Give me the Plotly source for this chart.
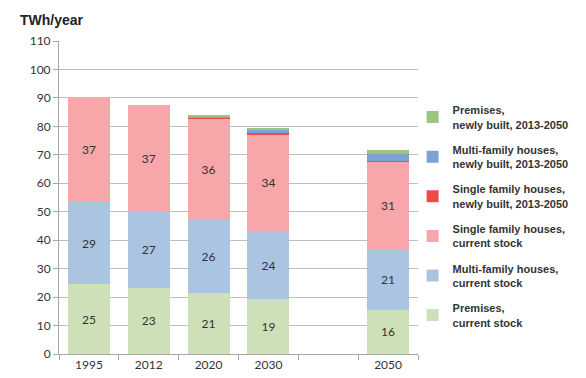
import plotly.graph_objects as go

# Final energy use for heating, TWh/year
years = ["1995", "2012", "2020", "2030", "2050"]
category_order = ["1995", "2012", "2020", "2030", " ", "2050"]

premises_current = [24.6, 23.2, 21.4, 19.2, 15.6]
multi_current = [28.7, 26.8, 25.6, 23.8, 21.0]
single_current = [37.0, 37.4, 35.9, 34.2, 31.0]
single_new = [0.0, 0.0, 0.1, 0.3, 0.4]
multi_new = [0.0, 0.0, 0.5, 1.3, 2.3]
premises_new = [0.0, 0.0, 0.6, 0.7, 1.5]

# Stacking order bottom-to-top; the legend lists them top-to-bottom in reverse
series = [
    ("Premises,<br>current stock", premises_current, "#CDE0B8", True),
    ("Multi-family houses,<br>current stock", multi_current, "#ABC4E1", True),
    ("Single family houses,<br>current stock", single_current, "#F7A6AA", True),
    ("Single family houses,<br>newly built, 2013-2050", single_new, "#EF4A4C", False),
    ("Multi-family houses,<br>newly built, 2013-2050", multi_new, "#7DA2D3", False),
    ("Premises,<br>newly built, 2013-2050", premises_new, "#9CC67D", False),
]

fig = go.Figure()
n = len(series)
for i, (name, vals, color, labelled) in enumerate(series):
    fig.add_trace(go.Bar(
        x=years,
        y=vals,
        name=f"<b>{name}</b>",
        legendgroup=f"g{i}",
        legendrank=n - i,
        marker=dict(color=color, line=dict(width=0)),
        texttemplate="%{y:.0f}" if labelled else None,
        textposition="inside" if labelled else "none",
        insidetextanchor="middle",
        textfont=dict(family="Lato, Liberation Sans, sans-serif", size=12, color="#333333"),
        hoverinfo="x+y+name",
    ))

fig.update_layout(
    width=586,
    height=378,
    barmode="stack",
    bargap=0.3,
    plot_bgcolor="white",
    paper_bgcolor="white",
    margin=dict(l=59, r=168, t=41, b=24, autoexpand=False),
    font=dict(family="Lato, Liberation Sans, sans-serif", size=12, color="#333333"),
    legend=dict(
        traceorder="grouped",
        tracegroupgap=8,
        x=0.985,
        xanchor="left",
        y=0.44,
        yanchor="middle",
        font=dict(family="Liberation Sans, Arial, sans-serif", size=11, color="#333333"),
        itemwidth=30,
        bgcolor="rgba(0,0,0,0)",
    ),
    xaxis=dict(
        type="category",
        categoryorder="array",
        categoryarray=category_order,
        tickson="boundaries",
        ticks="outside",
        ticklen=5,
        tickcolor="#A6A6A6",
        showline=True,
        linecolor="#A6A6A6",
        linewidth=1,
        showgrid=False,
        tickfont=dict(size=12, color="#333333"),
        fixedrange=True,
    ),
    yaxis=dict(
        range=[0, 110],
        tick0=0,
        dtick=10,
        ticks="outside",
        ticklen=5,
        tickcolor="#A6A6A6",
        showline=True,
        linecolor="#A6A6A6",
        linewidth=1,
        showgrid=True,
        gridcolor="#BFBFBF",
        gridwidth=1,
        zeroline=False,
        tickfont=dict(size=12, color="#333333"),
        fixedrange=True,
    ),
    annotations=[
        dict(
            text="<b>TWh/year</b>",
            xref="paper", yref="paper",
            x=-0.115, y=1.035,
            xanchor="left", yanchor="bottom",
            showarrow=False,
            font=dict(family="Liberation Sans, Arial, sans-serif", size=14, color="#222222"),
        )
    ],
)

fig.write_html("out.html")
